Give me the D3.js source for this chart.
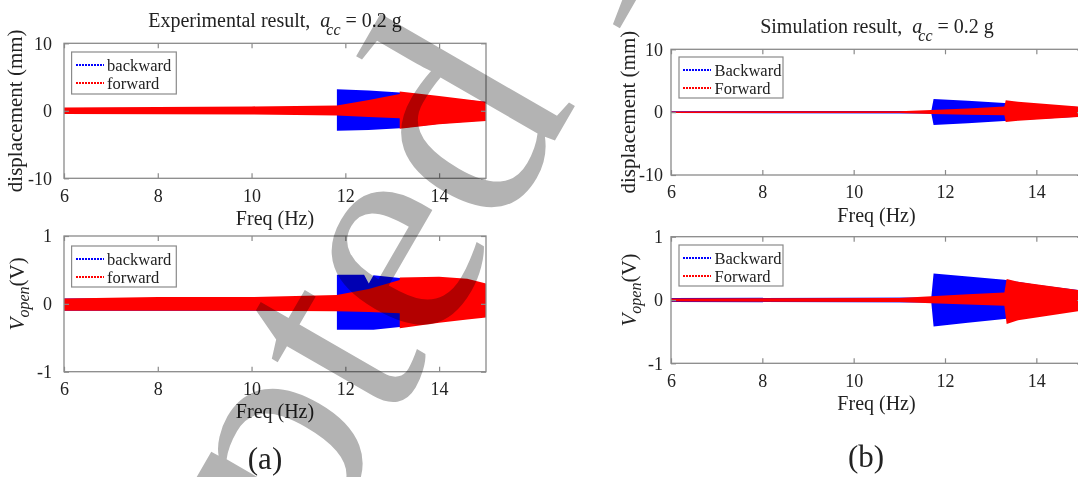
<!DOCTYPE html>
<head>
  <meta charset="utf-8">
  <script src="https://d3js.org/d3.v7.min.js"></script>
  <style>
    body { margin: 0; background: #fff; }
    svg { display: block; font-family: 'Liberation Serif', 'Times New Roman', serif; }
  </style>
</head>

<body>
  <svg width="1078" height="477"></svg>

  <script>
    // axis ticks
    const freqTicks = [6, 8, 10, 12, 14];
    const dispTicks = [-10, 0, 10];
    const voltTicks = [-1, 0, 1];

    // envelopes: [freq (Hz), upper, lower]
    const expDispBackward = [[6, 0.4, -0.3], [11.82, 0.5, -0.4], [11.82, 3.2, -2.95], [12.5, 3.0, -2.85],
      [13.16, 2.7, -2.6], [14, 2.0, -1.9], [15, 1.3, -1.4]];
    const expDispForward = [[6, 0.5, -0.47], [8, 0.55, -0.5], [10, 0.65, -0.55], [11.82, 0.8, -0.7],
      [12.5, 1.6, -0.9], [13.16, 2.5, -1.1], [13.16, 2.85, -2.65], [14, 2.2, -2.0], [15, 1.35, -1.5]];
    const expVoltBackward = [[6, 0.08, -0.1], [11.82, 0.1, -0.1], [11.82, 0.43, -0.38], [12.4, 0.43, -0.38],
      [12.5, 0.3, -0.38], [12.6, 0.42, -0.38], [13.16, 0.38, -0.34], [14, 0.35, -0.25], [15, 0.28, -0.18]];
    const expVoltForward = [[6, 0.08, -0.1], [8, 0.1, -0.1], [10, 0.1, -0.1], [11.82, 0.13, -0.11],
      [12.5, 0.22, -0.12], [13.16, 0.35, -0.14], [13.16, 0.39, -0.36], [14, 0.4, -0.28],
      [14.6, 0.37, -0.23], [15, 0.3, -0.2]];
    const simDispBackward = [[6, 0.15, -0.15], [11.7, 0.2, -0.2], [11.75, 2.1, -2.05], [12.5, 1.8, -1.75],
      [13.3, 1.45, -1.4], [14, 1.2, -1.1], [15, 0.8, -0.7]];
    const simDispForward = [[6, 0.12, -0.12], [11, 0.15, -0.15], [11.7, 0.35, -0.3], [12.5, 0.6, -0.4],
      [13.3, 0.9, -0.5], [13.33, 1.9, -1.55], [13.6, 1.65, -1.35], [15, 0.85, -0.75]];
    const simVoltBackward = [[6, 0.03, -0.03], [11.7, 0.04, -0.04], [11.75, 0.42, -0.42], [12.5, 0.37, -0.36],
      [13.3, 0.32, -0.3], [14, 0.24, -0.24], [15, 0.15, -0.15]];
    const simVoltForward = [[6, 0.025, -0.025], [11, 0.03, -0.03], [11.7, 0.06, -0.05], [12.5, 0.09, -0.07],
      [13.3, 0.12, -0.09], [13.35, 0.33, -0.38], [13.6, 0.29, -0.32], [15, 0.15, -0.17]];

    const expNames = ['backward', 'forward'];
    const simNames = ['Backward', 'Forward'];

    const svg = d3.select('svg');
    const textColor = '#222';
    const boxColor = '#8a8a8a';

    // one entry per subplot
    const panels = [
      { left: 64, right: 486, top: 43.3, bottom: 178.3, yDomain: [-10, 10], yTicks: dispTicks,
        back: expDispBackward, fwd: expDispForward, names: expNames, yPad: 12,
        legend: [71.6, 52, 104.7, 42], ylab: 'disp', ylabX: 22, xlabY: 225 },
      { left: 64, right: 486, top: 236, bottom: 371.7, yDomain: [-1, 1], yTicks: voltTicks,
        back: expVoltBackward, fwd: expVoltForward, names: expNames, yPad: 12,
        legend: [71.6, 246, 104.7, 41], ylab: 'volt', ylabX: 24, xlabY: 418 },
      { left: 671, right: 1082, top: 49.3, bottom: 175, yDomain: [-10, 10], yTicks: dispTicks,
        back: simDispBackward, fwd: simDispForward, names: simNames, yPad: 8,
        legend: [679, 57, 104, 41], ylab: 'disp', ylabX: 635, xlabY: 222 },
      { left: 671, right: 1082, top: 236.7, bottom: 363.3, yDomain: [-1, 1], yTicks: voltTicks,
        back: simVoltBackward, fwd: simVoltForward, names: simNames, yPad: 8,
        legend: [679, 245, 104, 41], ylab: 'volt', ylabX: 636, xlabY: 410 }
    ];

    panels.forEach((p, i) => {
      const x = d3.scaleLinear().domain([6, 15]).range([p.left, p.right]);
      const y = d3.scaleLinear().domain(p.yDomain).range([p.bottom, p.top]);
      const g = svg.append('g');

      svg.append('clipPath').attr('id', 'clip' + i)
        .append('rect')
        .attr('x', p.left).attr('y', p.top)
        .attr('width', p.right - p.left).attr('height', p.bottom - p.top);

      const area = d3.area()
        .x(d => x(d[0]))
        .y0(d => y(d[2]))
        .y1(d => y(d[1]));

      const plot = g.append('g').attr('clip-path', `url(#clip${i})`);
      plot.append('path').datum(p.back).attr('d', area).attr('fill', '#0000ff');
      plot.append('path').datum(p.fwd).attr('d', area).attr('fill', '#ff0000');

      // axes, inward ticks like matlab
      const styleAxis = sel => {
        sel.select('.domain').remove();
        sel.selectAll('line').attr('stroke', boxColor).attr('stroke-width', 1.2);
        sel.selectAll('text').attr('fill', textColor).attr('font-size', 18)
          .attr('font-family', 'Liberation Serif');
      };
      const fmt = d => String(d);
      g.append('g').attr('transform', `translate(0,${p.bottom})`)
        .call(d3.axisBottom(x).tickValues(freqTicks).tickFormat(fmt).tickSize(-5).tickPadding(10.5))
        .call(styleAxis);
      g.append('g').attr('transform', `translate(0,${p.top})`)
        .call(d3.axisTop(x).tickValues(freqTicks).tickSize(-5).tickFormat(''))
        .call(styleAxis);
      g.append('g').attr('transform', `translate(${p.left},0)`)
        .call(d3.axisLeft(y).tickValues(p.yTicks).tickFormat(fmt).tickSize(-5).tickPadding(p.yPad))
        .call(styleAxis);
      g.append('g').attr('transform', `translate(${p.right},0)`)
        .call(d3.axisRight(y).tickValues(p.yTicks).tickSize(-5).tickFormat(''))
        .call(styleAxis);

      g.append('rect')
        .attr('x', p.left).attr('y', p.top)
        .attr('width', p.right - p.left).attr('height', p.bottom - p.top)
        .attr('fill', 'none').attr('stroke', boxColor).attr('stroke-width', 1.3);

      // x label
      g.append('text')
        .attr('x', (p.left + p.right) / 2)
        .attr('y', p.xlabY)
        .attr('text-anchor', 'middle')
        .attr('font-size', 20).attr('fill', textColor)
        .text('Freq (Hz)');

      // y label
      const cy = (p.top + p.bottom) / 2;
      const yl = g.append('text')
        .attr('transform', `translate(${p.ylabX},${cy}) rotate(-90)`)
        .attr('text-anchor', 'middle')
        .attr('font-size', 21).attr('fill', textColor);
      if (p.ylab === 'disp') {
        yl.text('displacement (mm)');
      } else {
        yl.attr('dx', 10);
        yl.append('tspan').attr('font-style', 'italic').text('V');
        yl.append('tspan').attr('font-style', 'italic').attr('font-size', 16).attr('dy', 5).text('open');
        yl.append('tspan').attr('dy', -5).text('(V)');
      }

      // legend
      const [lx, ly, lw, lh] = p.legend;
      const lg = g.append('g');
      lg.append('rect').attr('x', lx).attr('y', ly).attr('width', lw).attr('height', lh)
        .attr('fill', '#fff').attr('stroke', boxColor).attr('stroke-width', 1.2);
      [['#0000ff', p.names[0]], ['#ff0000', p.names[1]]].forEach(([c, name], k) => {
        const ry = Math.round(ly + 12.5 + k * 18);
        lg.append('line')
          .attr('x1', Math.round(lx + 4)).attr('x2', Math.round(lx + 32)).attr('y1', ry).attr('y2', ry)
          .attr('stroke', c).attr('stroke-width', 2.5).attr('stroke-dasharray', '2,1')
          .attr('shape-rendering', 'crispEdges');
        lg.append('text')
          .attr('x', lx + 35.5).attr('y', ry + 5.5)
          .attr('font-size', 16.5).attr('fill', textColor)
          .text(name);
      });
    });

    // titles
    const titles = [
      { label: 'Experimental result,', cx: 275, y: 27 },
      { label: 'Simulation result,', cx: 877, y: 33 }
    ];
    titles.forEach(t => {
      const tt = svg.append('text')
        .attr('x', t.cx).attr('y', t.y)
        .attr('text-anchor', 'middle')
        .attr('font-size', 20).attr('fill', textColor);
      tt.append('tspan').text(t.label + '\u00a0\u00a0');
      tt.append('tspan').attr('font-style', 'italic').text('a');
      tt.append('tspan').attr('font-style', 'italic').attr('font-size', 16)
        .attr('dx', -4).attr('dy', 8).text('cc');
      tt.append('tspan').attr('dy', -8).text('\u00a0= 0.2 g');
    });

    // sub-figure captions
    [['(a)', 265, 469], ['(b)', 866, 467]].forEach(([s, cx, by]) => {
      svg.append('text')
        .attr('x', cx).attr('y', by)
        .attr('text-anchor', 'middle')
        .attr('font-size', 31).attr('fill', textColor)
        .text(s);
    });

    // journal watermark: place it so the "p" bowl and "d" bowl land where they sit in the scan
    const wmSize = 290;
    const wm = svg.append('text')
      .attr('font-size', wmSize)
      .attr('fill', '#b3b3b3')
      .style('mix-blend-mode', 'multiply')
      .text('Accepted Manuscript');
    const node = wm.node();
    const ep = node.getExtentOfChar(4);
    const ed = node.getExtentOfChar(7);
    const lp = [ep.x + 0.58 * ep.width, -0.23 * wmSize];
    const ld = [ed.x + 0.44 * ed.width, -0.23 * wmSize];
    const tp = [294, 450];
    const td = [472, 142];
    const ang = Math.atan2(td[1] - tp[1], td[0] - tp[0]) - Math.atan2(ld[1] - lp[1], ld[0] - lp[0]);
    const sc = Math.hypot(td[0] - tp[0], td[1] - tp[1]) / Math.hypot(ld[0] - lp[0], ld[1] - lp[1]);
    const rx = sc * (Math.cos(ang) * lp[0] - Math.sin(ang) * lp[1]);
    const ry = sc * (Math.sin(ang) * lp[0] + Math.cos(ang) * lp[1]);
    wm.attr('transform',
      `translate(${tp[0] - rx},${tp[1] - ry}) rotate(${ang * 180 / Math.PI}) scale(${sc})`);
  </script>
</body>
